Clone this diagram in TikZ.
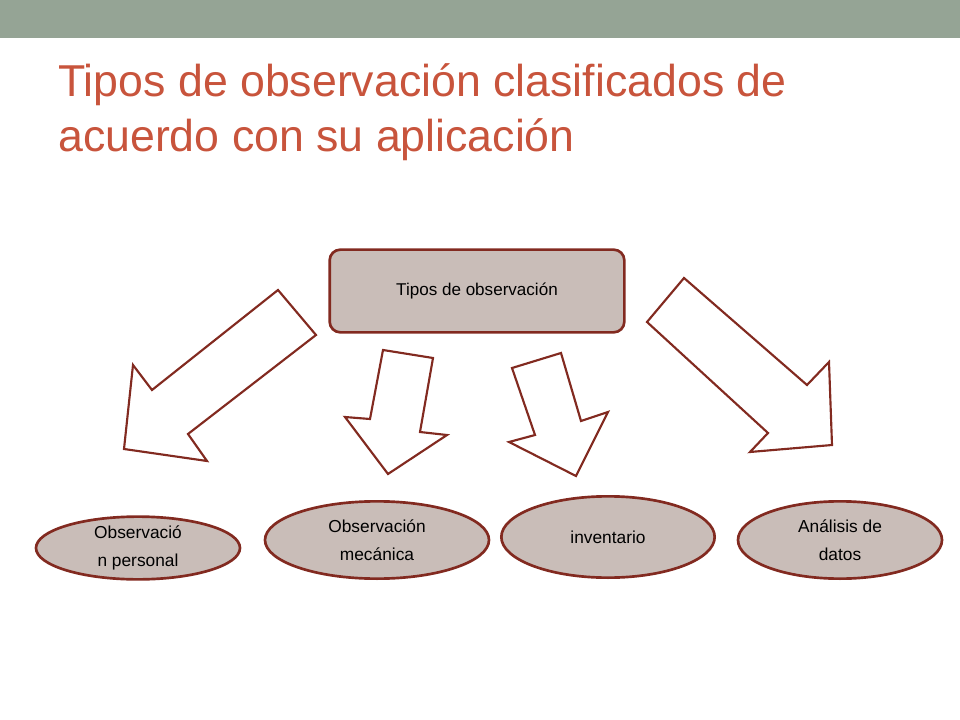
\documentclass[tikz,border=0pt]{standalone}
\usepackage{fontspec}
\setmainfont{Liberation Sans}
\usetikzlibrary{positioning,shapes.geometric}
\definecolor{barcolor}{RGB}{149,164,149}
\definecolor{titlecolor}{RGB}{200,84,60}
\definecolor{boxfill}{RGB}{201,189,184}
\definecolor{boxline}{RGB}{130,42,32}
\tikzset{
    type-box/.style = {draw=boxline, fill=boxfill, line width=2pt, rectangle, rounded corners=8pt, minimum width=221pt, minimum height=62pt, font=\fontsize{12.8pt}{16pt}\selectfont},
    type-oval/.style = {draw=boxline, fill=boxfill, line width=2pt, ellipse, align=center, font=\fontsize{13pt}{21pt}\selectfont, inner sep=0pt},
    block-arrow/.style = {draw=boxline, fill=white, line width=1.6pt, line join=miter},
}
\begin{document}
\begin{tikzpicture}[x=0.75pt,y=-0.75pt]
\useasboundingbox (0,0) rectangle (960,720);
\fill[barcolor] (0,0) rectangle (960,38);
\node[anchor=west, text=titlecolor, font=\fontsize{33.5pt}{41pt}\selectfont, align=left, inner sep=0pt] (title) at (58,112) {Tipos de observación clasificados de\\acuerdo con su aplicación};
% main box
\node[type-box] (types) at (477,291) {Tipos de observación};
% block arrows
\draw[block-arrow] (278,290) -- (316,335) -- (188,434) -- (207,461) -- (124,449) -- (133,365) -- (152,390) -- cycle;
\draw[block-arrow] (383,350) -- (433,358) -- (420,432) -- (447,435) -- (388,474) -- (345,417) -- (370,419) -- cycle;
\draw[block-arrow] (512,368) -- (561,353) -- (581,421) -- (608,412) -- (576,476) -- (509,442) -- (535,435) -- cycle;
\draw[block-arrow] (684,278) -- (647,322) -- (768,433) -- (750,452) -- (832,445) -- (829,362) -- (807,385) -- cycle;
% ovals
\node[type-oval, minimum width=153pt, minimum height=46pt] (personal) at (138,548) {Observació\\n personal};
\node[type-oval, minimum width=168pt, minimum height=58pt] (mechanical) at (377,540) {Observación\\mecánica};
\node[type-oval, minimum width=160pt, minimum height=61pt] (inventory) at (608,537) {inventario};
\node[type-oval, minimum width=153pt, minimum height=58pt] (analysis) at (840,540) {Análisis de\\datos};
\end{tikzpicture}
\end{document}
